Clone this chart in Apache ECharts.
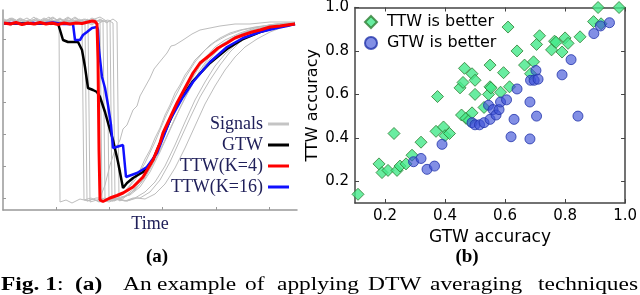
<!DOCTYPE html>
<html><head><meta charset="utf-8">
<script src="https://cdn.jsdelivr.net/npm/echarts@6/dist/echarts.min.js"></script>
<style>html,body{margin:0;padding:0;background:#fff}#c{width:640px;height:295px}</style>
</head><body><div id="c"></div>
<script>
// ---- panel (a): signals (time in samples, amplitude in arbitrary units) ----
const timeTicks = [53, 106, 159, 213, 266];
const ampTicks = [12, 44, 76, 108, 139, 171];

const signal1 = [[1,188],[9,191],[17,186],[25,190],[33,187],[41,192],[49,188],[56,189],[57,8],[63,10],[69,7],[77,11],[85,9],[93,12],[97,12],[102,25],[107,45],[112,60],[117,70],[120,81],[124,85],[130,100],[134,104],[137,114],[147,132],[151,141],[155,146],[164,157],[168,164],[172,165],[180,170],[189,176],[197,180],[207,182],[217,184],[232,186],[247,186],[267,188],[292,188]];
const signal2 = [[1,189],[8,184],[15,191],[23,187],[31,193],[39,186],[47,190],[55,185],[63,191],[71,187],[79,190],[81,10],[88,12],[96,8],[104,11],[112,9],[117,15],[122,19],[127,25],[132,33],[137,40],[142,51],[147,60],[152,72],[157,82],[162,95],[167,105],[172,117],[177,125],[182,135],[187,142],[192,150],[197,155],[207,165],[217,172],[227,177],[237,180],[252,183],[267,185],[282,187],[292,187]];
const signal3 = [[1,187],[7,192],[14,188],[22,185],[30,190],[38,188],[46,193],[54,186],[62,190],[70,187],[76,191],[82,188],[84,9],[90,11],[98,8],[106,12],[114,10],[122,14],[132,22],[142,35],[147,47],[152,55],[157,64],[162,77],[167,91],[172,100],[177,108],[182,120],[192,138],[202,152],[212,163],[222,170],[237,177],[252,182],[267,185],[292,187]];
const signal4 = [[1,190],[9,186],[17,192],[25,188],[33,185],[41,191],[49,187],[57,192],[65,186],[73,190],[80,188],[85,191],[87,8],[94,10],[102,12],[110,9],[118,13],[127,15],[137,23],[147,38],[157,58],[167,80],[177,102],[187,122],[197,140],[207,154],[217,164],[229,172],[242,178],[257,182],[272,185],[292,187]];
const signal5 = [[1,188],[10,191],[18,187],[26,190],[34,186],[42,189],[50,193],[58,187],[66,190],[74,186],[82,191],[90,188],[97,190],[99,10],[106,8],[114,11],[122,9],[130,12],[137,12],[147,18],[157,30],[167,48],[177,70],[187,92],[197,113],[207,130],[217,145],[227,158],[237,168],[247,175],[259,180],[272,184],[292,187]];
const signal6 = [[1,186],[8,190],[16,188],[24,192],[32,187],[40,190],[48,185],[56,191],[64,188],[72,193],[80,187],[88,190],[95,186],[100,189],[102,11],[108,9],[112,12],[122,18],[132,30],[142,47],[152,68],[162,92],[172,113],[182,132],[192,148],[202,160],[212,168],[225,175],[239,180],[255,183],[272,186],[292,187]];
const signal7 = [[1,191],[9,187],[17,190],[25,186],[33,192],[41,188],[49,190],[57,186],[65,192],[73,188],[81,191],[89,186],[97,190],[104,188],[106,10],[112,12],[117,9],[122,13],[132,20],[142,32],[152,50],[162,70],[172,92],[182,112],[192,130],[202,145],[212,157],[222,166],[235,174],[249,179],[265,183],[292,187]];
const signal8 = [[1,187],[9,190],[17,185],[25,189],[33,191],[41,186],[49,190],[57,188],[65,193],[73,187],[81,189],[89,185],[97,191],[104,187],[107,190],[109,9],[116,11],[124,9],[132,12],[142,18],[152,28],[162,44],[172,65],[182,88],[192,110],[202,128],[212,144],[222,156],[232,165],[245,173],[259,179],[275,183],[292,186]];
const signal9 = [[1,189],[9,192],[17,188],[25,186],[33,190],[41,187],[49,192],[57,189],[65,186],[73,190],[81,187],[89,192],[97,188],[105,190],[110,187],[112,11],[117,11],[127,16],[137,26],[147,42],[157,64],[167,88],[177,110],[187,128],[197,144],[207,156],[219,166],[233,174],[249,180],[267,184],[292,187]];
const signal10 = [[1,190],[9,187],[17,191],[25,188],[33,185],[41,190],[49,187],[57,191],[65,188],[73,192],[81,186],[89,190],[97,193],[105,188],[110,191],[114,188],[116,10],[124,9],[134,12],[142,11],[152,16],[162,26],[172,42],[182,62],[192,84],[202,106],[212,124],[222,140],[232,153],[242,163],[254,171],[267,178],[280,183],[292,186]];
const signals = [signal1, signal2, signal3, signal4, signal5, signal6, signal7, signal8, signal9, signal10];

const gtw = [[1,186.5],[20,186.5],[40,186.5],[55,186.5],[57,180],[60,170],[65,168],[75,168],[79,160],[82,143],[85,122],[90,120],[94,118],[97,113],[102,98],[107,80],[110,70],[115,48],[120,22],[124,27],[130,32],[140,38],[150,50],[157,67],[164,83],[174,105],[190,129],[207,147],[224,161],[240,171],[257,178],[274,183],[292,186]];
const ttw4 = [[1,187],[7,186],[13,187.5],[19,185.5],[25,187],[31,186],[37,187.5],[43,186],[49,187],[55,185.5],[61,187],[67,186],[73,187],[79,186.5],[85,188],[89,189],[92,188.5],[94,186],[95,150],[96,60],[97,10],[100,8.5],[107,12],[114,14.5],[120,17],[130,23],[140,33],[150,50],[157,67],[160,77],[167,92],[174,107],[182,122],[190,137],[197,147],[207,155],[215,162],[224,167],[232,172],[240,175],[249,178],[257,180],[267,183],[277,184],[284,185],[292,186]];
const ttw16 = [[1,186.5],[10,187],[20,186],[30,187],[40,186.5],[50,187.5],[60,186],[70,186],[72,170],[77,170],[80,175],[84,178],[89,182],[94,183],[95,180],[96,160],[99,133],[102,122],[105,105],[108,85],[110,62],[112,64],[120,65],[121,65],[123,33],[125,32],[134,37],[144,43],[154,57],[167,90],[180,113],[190,128],[207,148],[224,163],[240,172],[257,178],[274,182],[284,184],[292,186]];

// ---- panel (b): accuracy scatter ----
const accTicks = [0.2, 0.4, 0.6, 0.8, 1.0];
const ttwBetter = [[0.11,0.14],[0.18,0.28],[0.19,0.24],[0.21,0.25],[0.23,0.42],[0.24,0.25],[0.25,0.27],[0.27,0.28],[0.29,0.32],[0.32,0.38],[0.375,0.59],[0.37,0.43],[0.395,0.45],[0.40,0.41],[0.415,0.42],[0.45,0.63],[0.46,0.655],[0.465,0.72],[0.455,0.505],[0.47,0.49],[0.48,0.48],[0.49,0.515],[0.49,0.695],[0.50,0.665],[0.50,0.60],[0.53,0.54],[0.55,0.735],[0.545,0.60],[0.55,0.635],[0.553,0.63],[0.585,0.61],[0.595,0.70],[0.615,0.635],[0.61,0.91],[0.64,0.80],[0.665,0.735],[0.685,0.695],[0.695,0.75],[0.705,0.83],[0.715,0.87],[0.755,0.805],[0.765,0.845],[0.77,0.84],[0.79,0.795],[0.80,0.86],[0.81,0.835],[0.85,0.865],[0.895,0.935],[0.91,1.0],[0.92,0.925],[0.98,1.0]];
const gtwBetter = [[0.295,0.29],[0.32,0.305],[0.34,0.255],[0.365,0.27],[0.39,0.37],[0.49,0.47],[0.50,0.46],[0.515,0.46],[0.53,0.47],[0.55,0.485],[0.545,0.55],[0.56,0.53],[0.57,0.505],[0.58,0.53],[0.585,0.565],[0.605,0.575],[0.62,0.405],[0.63,0.485],[0.64,0.625],[0.683,0.565],[0.683,0.395],[0.685,0.665],[0.697,0.665],[0.703,0.71],[0.71,0.67],[0.705,0.50],[0.79,0.69],[0.82,0.76],[0.843,0.50],[0.896,0.88],[0.918,0.915],[0.948,0.93]];

const serif = '"Liberation Serif", "DejaVu Serif", serif';
const sans = '"DejaVu Sans", sans-serif';
const navy = '#20205a';

const chart = echarts.init(document.getElementById('c'), null, {renderer: 'canvas'});

const series = [];
signals.forEach(s => series.push({
  name: 'Signals', type: 'line', data: s, xAxisIndex: 0, yAxisIndex: 0,
  symbol: 'none', showSymbol: false, silent: true,
  lineStyle: {color: '#bdbdbd', width: 1}, itemStyle: {color: '#bdbdbd'}
}));
series.push({name: 'GTW', type: 'line', data: gtw, xAxisIndex: 0, yAxisIndex: 0, symbol: 'none',
  lineStyle: {color: '#000', width: 2.5}, itemStyle: {color: '#000'}});
series.push({name: 'TTW(K=16)', type: 'line', data: ttw16, xAxisIndex: 0, yAxisIndex: 0, symbol: 'none',
  lineStyle: {color: '#1010ff', width: 2.5}, itemStyle: {color: '#1010ff'}});
series.push({name: 'TTW(K=4)', type: 'line', data: ttw4, xAxisIndex: 0, yAxisIndex: 0, symbol: 'none',
  lineStyle: {color: '#ff0000', width: 3}, itemStyle: {color: '#ff0000'}});
series.push({name: 'TTW is better', type: 'scatter', data: ttwBetter, xAxisIndex: 1, yAxisIndex: 1,
  symbol: 'diamond', symbolSize: 12,
  itemStyle: {color: '#44e88a', borderColor: '#2e7d32', borderWidth: 1}});
series.push({name: 'GTW is better', type: 'scatter', data: gtwBetter, xAxisIndex: 1, yAxisIndex: 1,
  symbol: 'circle', symbolSize: 10,
  itemStyle: {color: 'rgba(60,80,215,0.8)', borderColor: '#2233aa', borderWidth: 1}});

const fmt = v => v.toFixed(1);
const frameLine = {show: true, lineStyle: {color: '#444', width: 1.5}};
const frameTick = {show: true, inside: true, length: 4, customValues: accTicks, lineStyle: {color: '#444', width: 1}};

chart.setOption({
  animation: false,
  backgroundColor: '#fff',
  grid: [
    {left: 3, top: 10, width: 294, height: 200},
    {left: 355, top: 7, width: 275, height: 196}
  ],
  xAxis: [
    {gridIndex: 0, type: 'value', min: 0, max: 294,
      axisLine: {show: true, lineStyle: {color: '#999', width: 1.5}},
      axisTick: {show: true, inside: true, length: 3, customValues: timeTicks, lineStyle: {color: '#999'}},
      axisLabel: {show: false}, splitLine: {show: false},
      name: 'Time', nameLocation: 'middle', nameGap: 5,
      nameTextStyle: {fontFamily: serif, fontSize: 18, color: navy}},
    {gridIndex: 1, type: 'value', min: 0.1, max: 1.0, position: 'bottom',
      axisLine: frameLine, axisTick: frameTick,
      axisLabel: {customValues: accTicks, formatter: fmt, fontFamily: sans, fontSize: 15, color: '#000', margin: 6},
      splitLine: {show: false},
      name: 'GTW accuracy', nameLocation: 'middle', nameGap: 16,
      nameTextStyle: {fontFamily: sans, fontSize: 17, color: '#000'}},
    {gridIndex: 1, type: 'value', min: 0.1, max: 1.0, position: 'top',
      axisLine: frameLine, axisTick: frameTick, axisLabel: {show: false}, splitLine: {show: false}}
  ],
  yAxis: [
    {gridIndex: 0, type: 'value', min: 0, max: 200,
      axisLine: {show: true, lineStyle: {color: '#999', width: 1.5}},
      axisTick: {show: true, inside: true, length: 3, customValues: ampTicks, lineStyle: {color: '#999'}},
      axisLabel: {show: false}, splitLine: {show: false}},
    {gridIndex: 1, type: 'value', min: 0.1, max: 1.0, position: 'left',
      axisLine: frameLine, axisTick: frameTick,
      axisLabel: {customValues: accTicks, formatter: fmt, fontFamily: sans, fontSize: 15, color: '#000', margin: 6},
      splitLine: {show: false},
      name: 'TTW accuracy', nameLocation: 'middle', nameGap: 33,
      nameTextStyle: {fontFamily: sans, fontSize: 16, color: '#000'}},
    {gridIndex: 1, type: 'value', min: 0.1, max: 1.0, position: 'right',
      axisLine: frameLine, axisTick: frameTick, axisLabel: {show: false}, splitLine: {show: false}}
  ],
  legend: [
    {data: [
        {name: 'Signals', icon: 'rect', itemStyle: {color: '#c4c4c4'}},
        {name: 'GTW', icon: 'rect'},
        {name: 'TTW(K=4)', icon: 'rect'},
        {name: 'TTW(K=16)', icon: 'rect'}],
      orient: 'vertical', align: 'right',
      right: 351, top: 114, padding: 0, itemWidth: 21, itemHeight: 3, itemGap: 1,
      selectedMode: false,
      textStyle: {fontFamily: serif, fontSize: 18, color: navy, lineHeight: 20}},
    {data: [{name: 'TTW is better', icon: 'diamond'}, {name: 'GTW is better', icon: 'circle'}],
      orient: 'vertical', left: 364, top: 14, padding: 0, itemWidth: 12, itemHeight: 12, itemGap: 5,
      selectedMode: false,
      textStyle: {fontFamily: sans, fontSize: 16, color: '#000', lineHeight: 16, padding: [0, 0, 0, 5]}}
  ],
  graphic: [
    {type: 'text', x: 157, y: 257, style: {text: '(a)', font: 'bold 19px ' + serif, fill: '#000', textAlign: 'center', textVerticalAlign: 'middle'}},
    {type: 'text', x: 467, y: 257, style: {text: '(b)', font: 'bold 19px ' + serif, fill: '#000', textAlign: 'center', textVerticalAlign: 'middle'}},
    {type: 'text', x: 1, y: 285, scaleX: 1.3, style: {text: 'Fig. 1', font: 'bold 18px ' + serif, fill: '#000', textVerticalAlign: 'middle'}},
    {type: 'text', x: 57, y: 285, scaleX: 1.3, style: {text: ':', font: '18px ' + serif, fill: '#000', textVerticalAlign: 'middle'}},
    {type: 'text', x: 75, y: 285, scaleX: 1.3, style: {text: '(a)', font: 'bold 18px ' + serif, fill: '#000', textVerticalAlign: 'middle'}},
    {type: 'text', x: 123, y: 285, scaleX: 1.3, style: {text: 'An', font: '18px ' + serif, fill: '#000', textVerticalAlign: 'middle'}},
    {type: 'text', x: 157, y: 285, scaleX: 1.3, style: {text: 'example', font: '18px ' + serif, fill: '#000', textVerticalAlign: 'middle'}},
    {type: 'text', x: 245, y: 285, scaleX: 1.3, style: {text: 'of', font: '18px ' + serif, fill: '#000', textVerticalAlign: 'middle'}},
    {type: 'text', x: 277, y: 285, scaleX: 1.3, style: {text: 'applying', font: '18px ' + serif, fill: '#000', textVerticalAlign: 'middle'}},
    {type: 'text', x: 368, y: 285, scaleX: 1.3, style: {text: 'DTW', font: '18px ' + serif, fill: '#000', textVerticalAlign: 'middle'}},
    {type: 'text', x: 430, y: 285, scaleX: 1.3, style: {text: 'averaging', font: '18px ' + serif, fill: '#000', textVerticalAlign: 'middle'}},
    {type: 'text', x: 538, y: 285, scaleX: 1.3, style: {text: 'techniques', font: '18px ' + serif, fill: '#000', textVerticalAlign: 'middle'}}
  ],
  series: series
});
</script>
</body></html>
